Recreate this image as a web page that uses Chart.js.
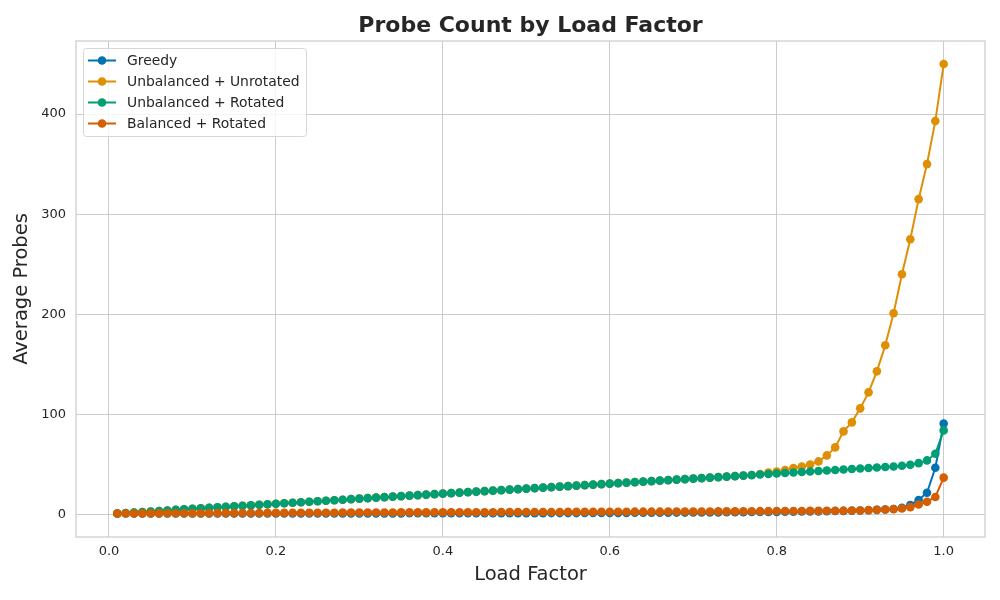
<!DOCTYPE html>
<html lang="en">
  <head>
    <meta charset="UTF-8" />
    <title>Probe Count by Load Factor</title>
    <script src="https://cdn.jsdelivr.net/npm/chart.js@4.4.1/dist/chart.umd.min.js"></script>
    <style>
      body { margin: 0; background: #fff; }
      #wrap { width: 1000px; height: 600px; }
    </style>
  </head>
  <body>
    <div id="wrap"><canvas id="myChart"></canvas></div>

    <script>
      // load factors 0.01 .. 1.00
      const loadFactors = [
        0.01, 0.02, 0.03, 0.04, 0.05, 0.06, 0.07, 0.08, 0.09, 0.1,
        0.11, 0.12, 0.13, 0.14, 0.15, 0.16, 0.17, 0.18, 0.19, 0.2,
        0.21, 0.22, 0.23, 0.24, 0.25, 0.26, 0.27, 0.28, 0.29, 0.3,
        0.31, 0.32, 0.33, 0.34, 0.35, 0.36, 0.37, 0.38, 0.39, 0.4,
        0.41, 0.42, 0.43, 0.44, 0.45, 0.46, 0.47, 0.48, 0.49, 0.5,
        0.51, 0.52, 0.53, 0.54, 0.55, 0.56, 0.57, 0.58, 0.59, 0.6,
        0.61, 0.62, 0.63, 0.64, 0.65, 0.66, 0.67, 0.68, 0.69, 0.7,
        0.71, 0.72, 0.73, 0.74, 0.75, 0.76, 0.77, 0.78, 0.79, 0.8,
        0.81, 0.82, 0.83, 0.84, 0.85, 0.86, 0.87, 0.88, 0.89, 0.9,
        0.91, 0.92, 0.93, 0.94, 0.95, 0.96, 0.97, 0.98, 0.99, 1.0
      ];

      const greedy = [
        1.0, 1.0, 1.0, 1.0, 1.0, 1.0, 1.0, 1.0, 1.0, 1.0,
        1.0, 1.0, 1.0, 1.0, 1.0, 1.0, 1.0, 1.0, 1.0, 1.0,
        1.0, 1.0, 1.0, 1.0, 1.0, 1.1, 1.1, 1.1, 1.1, 1.1,
        1.1, 1.1, 1.1, 1.1, 1.1, 1.2, 1.2, 1.2, 1.2, 1.2,
        1.2, 1.2, 1.2, 1.2, 1.2, 1.3, 1.3, 1.3, 1.3, 1.3,
        1.3, 1.3, 1.4, 1.4, 1.4, 1.4, 1.5, 1.5, 1.5, 1.6,
        1.6, 1.6, 1.7, 1.7, 1.7, 1.8, 1.8, 1.9, 1.9, 2.0,
        2.0, 2.1, 2.1, 2.2, 2.2, 2.3, 2.4, 2.4, 2.5, 2.6,
        2.7, 2.8, 2.9, 3.0, 3.1, 3.2, 3.4, 3.5, 3.7, 3.9,
        4.2, 4.6, 5.0, 5.5, 6.7, 9.5, 14.5, 21.7, 46.7, 90.8
      ];

      const unbalancedUnrotated = [
        1.0, 1.5, 2.0, 2.5, 3.0, 3.5, 4.0, 4.6, 5.1, 5.6,
        6.1, 6.6, 7.1, 7.6, 8.1, 8.6, 9.1, 9.7, 10.2, 10.7,
        11.2, 11.7, 12.2, 12.7, 13.2, 13.7, 14.2, 14.7, 15.3, 15.8,
        16.3, 16.8, 17.3, 17.8, 18.3, 18.8, 19.3, 19.8, 20.3, 20.8,
        21.3, 21.8, 22.3, 22.8, 23.3, 23.8, 24.3, 24.8, 25.3, 25.8,
        26.3, 26.8, 27.3, 27.8, 28.3, 28.8, 29.3, 29.8, 30.3, 30.8,
        31.3, 31.8, 32.3, 32.8, 33.3, 33.8, 34.3, 34.8, 35.3, 35.8,
        36.3, 36.8, 37.3, 37.8, 38.3, 38.8, 39.4, 40.5, 41.8, 43.0,
        44.5, 46.5, 48.0, 50.0, 53.0, 59.0, 67.0, 83.0, 92.0, 106.0,
        122.0, 143.0, 169.0, 201.0, 240.0, 275.0, 315.0, 350.0, 393.0, 450.0
      ];

      const unbalancedRotated = [
        1.0, 1.5, 2.0, 2.5, 3.0, 3.5, 4.0, 4.6, 5.1, 5.6,
        6.1, 6.6, 7.1, 7.6, 8.1, 8.6, 9.1, 9.7, 10.2, 10.7,
        11.2, 11.7, 12.2, 12.7, 13.2, 13.7, 14.2, 14.7, 15.3, 15.8,
        16.3, 16.8, 17.3, 17.8, 18.3, 18.8, 19.3, 19.8, 20.3, 20.8,
        21.3, 21.8, 22.3, 22.8, 23.3, 23.8, 24.3, 24.8, 25.3, 25.8,
        26.3, 26.8, 27.3, 27.8, 28.3, 28.8, 29.3, 29.8, 30.3, 30.8,
        31.3, 31.8, 32.3, 32.8, 33.3, 33.8, 34.3, 34.8, 35.3, 35.8,
        36.3, 36.8, 37.3, 37.8, 38.3, 38.8, 39.3, 39.9, 40.4, 40.9,
        41.4, 41.9, 42.4, 42.9, 43.4, 43.9, 44.4, 44.9, 45.4, 45.9,
        46.4, 46.9, 47.4, 48.0, 48.7, 49.6, 51.3, 54.0, 60.7, 84.0
      ];

      const balancedRotated = [
        1.0, 1.0, 1.0, 1.1, 1.1, 1.1, 1.2, 1.2, 1.2, 1.3,
        1.3, 1.3, 1.4, 1.4, 1.4, 1.5, 1.5, 1.5, 1.6, 1.6,
        1.6, 1.7, 1.7, 1.7, 1.8, 1.8, 1.8, 1.9, 1.9, 1.9,
        2.0, 2.0, 2.0, 2.0, 2.1, 2.1, 2.1, 2.1, 2.2, 2.2,
        2.2, 2.2, 2.3, 2.3, 2.3, 2.3, 2.4, 2.4, 2.4, 2.4,
        2.5, 2.5, 2.5, 2.5, 2.6, 2.6, 2.6, 2.6, 2.7, 2.7,
        2.7, 2.7, 2.8, 2.8, 2.8, 2.8, 2.9, 2.9, 2.9, 3.0,
        3.0, 3.0, 3.1, 3.1, 3.1, 3.2, 3.2, 3.3, 3.3, 3.4,
        3.4, 3.5, 3.5, 3.6, 3.6, 3.7, 3.7, 3.8, 3.9, 4.0,
        4.3, 4.7, 5.0, 5.3, 6.0, 7.3, 10.0, 12.7, 17.5, 36.8
      ];

      const seriesNames = ["Greedy", "Unbalanced + Unrotated", "Unbalanced + Rotated", "Balanced + Rotated"];
      const seriesValues = [greedy, unbalancedUnrotated, unbalancedRotated, balancedRotated];
      const seriesColors = ["#0173b2", "#de8f05", "#029e73", "#d55e00"];
      const xTicks = [0, 0.2, 0.4, 0.6, 0.8, 1.0];
      const yTicks = [0, 100, 200, 300, 400];
      const chartTitle = "Probe Count by Load Factor";

      const FONT = "'DejaVu Sans', sans-serif";
      const TEXT = "#262626";
      const GRID = "#cccccc";

      // frame around the plot area + title centred over the axes
      const framePlugin = {
        id: "frame",
        afterDatasetsDraw(chart) {
          const { ctx, chartArea: a } = chart;
          ctx.save();
          ctx.strokeStyle = GRID;
          ctx.lineWidth = 1.25;
          ctx.strokeRect(a.left, a.top, a.right - a.left, a.bottom - a.top);
          ctx.fillStyle = TEXT;
          ctx.font = "bold 22px " + FONT;
          ctx.textAlign = "center";
          ctx.textBaseline = "middle";
          ctx.fillText(chartTitle, (a.left + a.right) / 2, 26);
          ctx.restore();
        },
      };

      // legend box drawn inside the axes, upper left
      const innerLegend = {
        id: "innerLegend",
        afterDraw(chart) {
          const { ctx, chartArea: a } = chart;
          const x0 = a.left + 7, y0 = a.top + 7;
          const w = 223, rowH = 21, h = 88;
          ctx.save();
          ctx.fillStyle = "rgba(255,255,255,0.8)";
          ctx.strokeStyle = "#d6d6d6";
          ctx.lineWidth = 1;
          ctx.beginPath();
          ctx.roundRect(x0 + 0.5, y0 + 0.5, w, h, 3);
          ctx.fill();
          ctx.stroke();
          ctx.font = "13.9px " + FONT;
          ctx.textBaseline = "middle";
          seriesNames.forEach((name, i) => {
            const cy = y0 + 12.5 + i * rowH;
            ctx.strokeStyle = seriesColors[i];
            ctx.lineWidth = 2;
            ctx.beginPath();
            ctx.moveTo(x0 + 5, cy);
            ctx.lineTo(x0 + 33, cy);
            ctx.stroke();
            ctx.fillStyle = seriesColors[i];
            ctx.beginPath();
            ctx.arc(x0 + 19, cy, 4.3, 0, Math.PI * 2);
            ctx.fill();
            ctx.fillStyle = TEXT;
            ctx.fillText(name, x0 + 44, cy + 0.5);
          });
          ctx.restore();
        },
      };

      const datasets = seriesNames.map((name, i) => ({
        label: name,
        data: loadFactors.map((lf, j) => ({ x: lf, y: seriesValues[i][j] })),
        borderColor: seriesColors[i],
        backgroundColor: seriesColors[i],
        borderWidth: 2,
        pointRadius: 4.3,
        pointBorderWidth: 0,
        pointHoverRadius: 4.3,
        order: seriesNames.length - i, // later series drawn on top
      }));

      const ctx = document.getElementById("myChart").getContext("2d");
      const myChart = new Chart(ctx, {
        type: "line",
        data: { datasets },
        plugins: [framePlugin, innerLegend],
        options: {
          responsive: true,
          maintainAspectRatio: false,
          animation: false,
          layout: { padding: { left: 0, right: 15, top: 41, bottom: 0 } },
          plugins: {
            legend: { display: false },
            tooltip: { enabled: false },
            title: { display: false },
          },
          scales: {
            x: {
              type: "linear",
              min: -0.0395,
              max: 1.0495,
              afterBuildTicks: (s) => { s.ticks = xTicks.map((v) => ({ value: v })); },
              afterFit: (s) => { s.height = 63; },
              ticks: {
                color: TEXT,
                font: { family: FONT, size: 13 },
                padding: 7,
                callback: (v) => Number(v).toFixed(1),
              },
              grid: { color: GRID, lineWidth: 1, drawTicks: false },
              border: { display: false },
              title: {
                display: true,
                text: "Load Factor",
                color: TEXT,
                font: { family: FONT, size: 19.5 },
                padding: { top: 0, bottom: 13 },
              },
            },
            y: {
              type: "linear",
              min: -22.5,
              max: 473,
              afterBuildTicks: (s) => { s.ticks = yTicks.map((v) => ({ value: v })); },
              afterFit: (s) => { s.width = 76; },
              ticks: {
                color: TEXT,
                font: { family: FONT, size: 13 },
                padding: 10,
                callback: (v) => String(v),
              },
              grid: { color: GRID, lineWidth: 1, drawTicks: false },
              border: { display: false },
              title: {
                display: true,
                text: "Average Probes",
                color: TEXT,
                font: { family: FONT, size: 19.5 },
                padding: { top: 10, bottom: 0 },
              },
            },
          },
        },
      });
    </script>
  </body>
</html>
